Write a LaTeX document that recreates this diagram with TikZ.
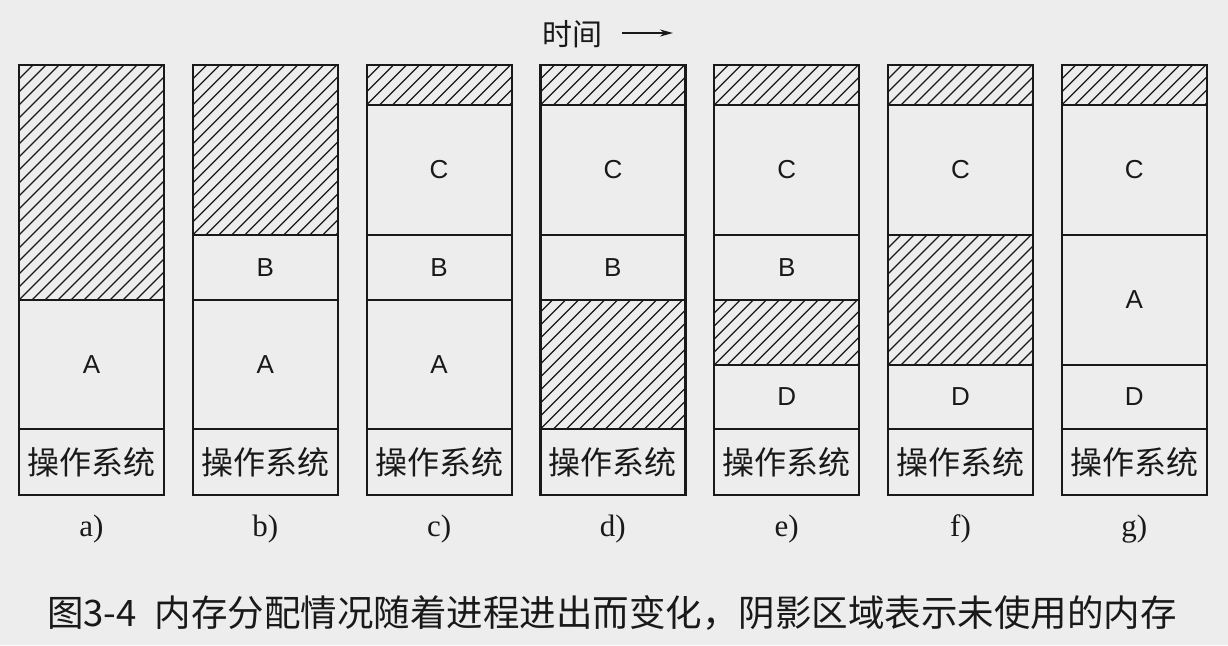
\documentclass[tikz,border=0pt]{standalone}
\usepackage{fontspec}
\setmainfont{Liberation Serif}
\newfontfamily\lsans{Liberation Sans}
\newfontfamily\cjk{Noto Sans CJK SC}
\usetikzlibrary{arrows.meta}
\definecolor{paper}{rgb}{0.93,0.93,0.93}
\definecolor{ink}{rgb}{0.1,0.1,0.1}
\newcommand\mreg[6]{% name, x, ytop, ybot, style, text
  \node[reg,#5,minimum height={(#4-#3)*1pt},anchor=north west] (#1) at (#2,#3) {#6};}
\newcommand\mcol[2]{% name, x
  \node[collab] (lab#1) at ({#2+72.5},529) {#1)};}
\begin{document}
\begin{tikzpicture}[x=1pt,y=-1pt,
  reg/.style={draw=ink,line width=2.2pt,rectangle,inner sep=0pt,outer sep=0pt,
    minimum width=145pt,text=ink,font=\lsans\fontsize{26}{26}\selectfont},
  os/.style={font=\cjk\fontsize{32}{32}\selectfont},
  hatch/.style={path picture={
    \foreach \k in {-30,...,15}{
      \draw[ink,line width=1.25pt]
        ([xshift=\k*13pt]path picture bounding box.south west) -- ++(320pt,320pt);
    }}},
  collab/.style={text=ink,font=\fontsize{31}{31}\selectfont},
]
\fill[paper] (0,0) rectangle (1228,645);
\useasboundingbox (0,0) rectangle (1228,645);
% a
\mreg{a1}{19}{65}{300}{hatch}{}
\mreg{a2}{19}{300}{429}{}{A}
\mreg{a3}{19}{429}{495}{os}{操作系统}
\mcol{a}{19}
% b
\mreg{b1}{192.8}{65}{235}{hatch}{}
\mreg{b2}{192.8}{235}{300}{}{B}
\mreg{b3}{192.8}{300}{429}{}{A}
\mreg{b4}{192.8}{429}{495}{os}{操作系统}
\mcol{b}{192.8}
% c
\mreg{c1}{366.6}{65}{105}{hatch}{}
\mreg{c2}{366.6}{105}{235}{}{C}
\mreg{c3}{366.6}{235}{300}{}{B}
\mreg{c4}{366.6}{300}{429}{}{A}
\mreg{c5}{366.6}{429}{495}{os}{操作系统}
\mcol{c}{366.6}
% d
\mreg{d1}{540.4}{65}{105}{hatch}{}
\mreg{d2}{540.4}{105}{235}{}{C}
\mreg{d3}{540.4}{235}{300}{}{B}
\mreg{d4}{540.4}{300}{429}{hatch}{}
\mreg{d5}{540.4}{429}{495}{os}{操作系统}
\mcol{d}{540.4}
% e
\mreg{e1}{714.2}{65}{105}{hatch}{}
\mreg{e2}{714.2}{105}{235}{}{C}
\mreg{e3}{714.2}{235}{300}{}{B}
\mreg{e4}{714.2}{300}{365}{hatch}{}
\mreg{e5}{714.2}{365}{429}{}{D}
\mreg{e6}{714.2}{429}{495}{os}{操作系统}
\mcol{e}{714.2}
% f
\mreg{f1}{888}{65}{105}{hatch}{}
\mreg{f2}{888}{105}{235}{}{C}
\mreg{f3}{888}{235}{365}{hatch}{}
\mreg{f4}{888}{365}{429}{}{D}
\mreg{f5}{888}{429}{495}{os}{操作系统}
\mcol{f}{888}
% g
\mreg{g1}{1061.8}{65}{105}{hatch}{}
\mreg{g2}{1061.8}{105}{235}{}{C}
\mreg{g3}{1061.8}{235}{365}{}{A}
\mreg{g4}{1061.8}{365}{429}{}{D}
\mreg{g5}{1061.8}{429}{495}{os}{操作系统}
\mcol{g}{1061.8}
% time
\node[text=ink,font=\cjk\fontsize{30}{30}\selectfont] (time) at (572,34) {时间};
\coordinate (arrS) at (622,33);
\coordinate (arrE) at (673,33);
\draw[ink,line width=1.6pt,-{Stealth[length=13pt,width=7pt]}] (arrS) -- (arrE);
% caption
\node[anchor=west,inner sep=0pt,text=ink,font=\cjk\fontsize{36.5}{36.5}\selectfont] (cap) at (47,613)
  {图3-4\hspace{18pt}内存分配情况随着进程进出而变化，阴影区域表示未使用的内存};
\end{tikzpicture}
\end{document}
